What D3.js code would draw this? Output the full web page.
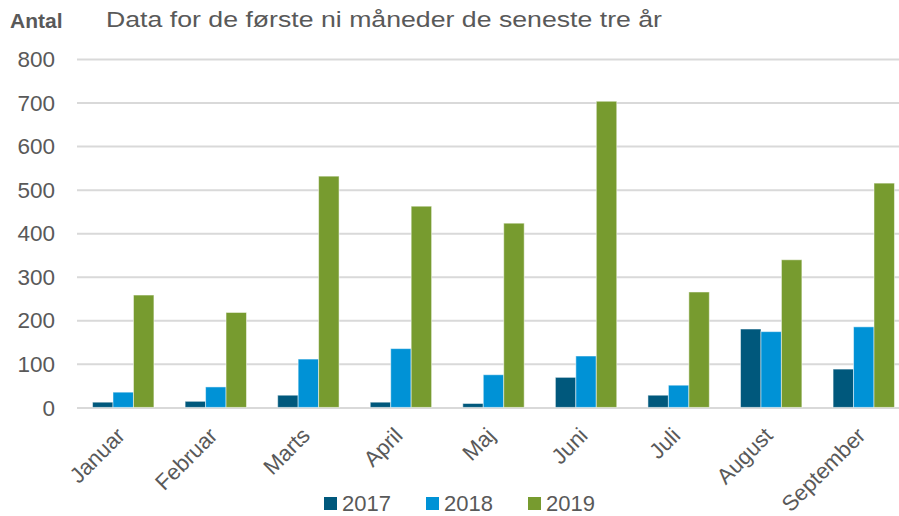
<!DOCTYPE html>
<meta charset="utf-8">
<style>
  body { margin: 0; background: #fff; }
  text { font-family: "Liberation Sans", Arial, sans-serif; fill: #595959; }
  .grid line { stroke: #d9d9d9; stroke-width: 2px; }
  .grid .domain { display: none; }
</style>
<body>
<script src="https://d3js.org/d3.v7.min.js"></script>
<script>

// data
var months = ["Januar", "Februar", "Marts", "April", "Maj", "Juni", "Juli", "August", "September"];
var years = ["2017", "2018", "2019"];
var v2017 = [12, 14, 28, 12, 9, 69, 28, 180, 88];
var v2018 = [35, 47, 111, 135, 75, 118, 51, 174, 185];
var v2019 = [258, 218, 531, 462, 423, 703, 265, 339, 515];
var yTicks = [0, 100, 200, 300, 400, 500, 600, 700, 800];
var colors = ["#00587c", "#0092d6", "#779b2f"];

var width = 899, height = 516;

var svg = d3.select("body").append("svg")
    .attr("width", width)
    .attr("height", height);

// scales
var x = d3.scaleBand().domain(months).range([77, 910]).paddingInner(0.337).paddingOuter(0.168);
var xs = d3.scaleBand().domain(years).range([0, x.bandwidth()]);
var y = d3.scaleLinear().domain([0, 800]).range([407.4, 59]);

// gridlines
svg.append("g")
    .attr("class", "grid")
    .attr("transform", "translate(77,0)")
    .call(d3.axisLeft(y).tickValues(yTicks).tickSize(-(width - 77)).tickFormat(""));

// y labels
svg.append("g").selectAll("text")
    .data(yTicks)
  .enter().append("text")
    .attr("x", 55)
    .attr("y", function(d) { return y(d); })
    .attr("dy", "0.36em")
    .attr("text-anchor", "end")
    .style("font-size", "22.5px")
    .text(function(d) { return d; });

// bars
var series = [v2017, v2018, v2019];
var rows = months.map(function(m, i) {
  return years.map(function(yr, j) { return { month: m, year: yr, value: series[j][i], c: colors[j] }; });
});

svg.append("g").selectAll("g")
    .data(rows)
  .enter().append("g")
    .attr("transform", function(d) { return "translate(" + x(d[0].month) + ",0)"; })
  .selectAll("rect")
    .data(function(d) { return d; })
  .enter().append("rect")
    .attr("x", function(d) { return xs(d.year); })
    .attr("y", function(d) { return y(d.value); })
    .attr("width", xs.bandwidth())
    .attr("height", function(d) { return y(0) - y(d.value); })
    .attr("fill", function(d) { return d.c; })
    .attr("stroke", "rgba(255,255,255,0.5)")
    .attr("stroke-width", 1);

// x labels, rotated
svg.append("g").selectAll("text")
    .data(months)
  .enter().append("text")
    .attr("transform", function(d) {
      return "translate(" + (x(d) + x.bandwidth() / 2 + 3) + ",437) rotate(-45)";
    })
    .attr("text-anchor", "end")
    .style("font-size", "22px")
    .text(function(d) { return d; });

// titles
svg.append("text")
    .attr("x", 10).attr("y", 27.5)
    .style("font-size", "21px")
    .style("font-weight", "bold")
    .text("Antal");

svg.append("text")
    .attr("x", 106).attr("y", 26.7)
    .attr("textLength", 556)
    .attr("lengthAdjust", "spacingAndGlyphs")
    .style("font-size", "22.5px")
    .text("Data for de første ni måneder de seneste tre år");

// legend
var legend = svg.append("g").selectAll("g")
    .data(years)
  .enter().append("g")
    .attr("transform", function(d, i) { return "translate(" + (324 + i * 102) + ",497)"; });

legend.append("rect")
    .attr("width", 13).attr("height", 13)
    .attr("fill", function(d, i) { return colors[i]; });

legend.append("text")
    .attr("x", 18).attr("y", 14)
    .style("font-size", "22px")
    .text(function(d) { return d; });

</script>
</body>
